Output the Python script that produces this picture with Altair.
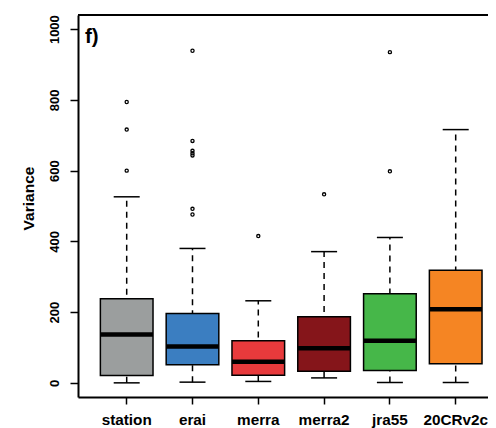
import altair as alt
import pandas as pd

cats = ["station", "erai", "merra", "merra2", "jra55", "20CRv2c"]
colors = ["#9B9E9E", "#3B7EC1", "#E83A3C", "#85151A", "#46B749", "#F58523"]
q1 = [20.6, 51, 21.5, 33, 35, 54]
med = [136.6, 103, 60, 98, 119, 208]
q3 = [237.6, 196, 119, 187, 252, 318.5]
wlo = [0, 2, 4, 14, 1, 1]
whi = [526, 380, 232, 371, 411, 716]
outliers = {
    "station": [794, 716, 600],
    "erai": [939, 684, 656, 649, 643, 492, 476],
    "merra": [415],
    "merra2": [533],
    "jra55": [935, 598],
    "20CRv2c": [],
}
yticks = [0, 200, 400, 600, 800, 1000]

df = pd.DataFrame({"cat": cats, "q1": q1, "med": med, "q3": q3, "wlo": wlo, "whi": whi})
odf = pd.DataFrame([{"cat": c, "v": v} for c in cats for v in outliers[c]])

FONT = "Liberation Sans"
W, H = 410, 382

xscale = alt.Scale(domain=cats, paddingInner=0.2, paddingOuter=0.2155, align=0.789)
yscale = alt.Scale(domain=[-40, 1040], nice=False, zero=False)

xenc = alt.X("cat:N", sort=cats, scale=xscale, title=None,
             axis=alt.Axis(labelAngle=0, labelFontSize=15.3, labelFontWeight="bold",
                           labelFont=FONT, labelColor="black", labelBaseline="alphabetic",
                           labelPadding=20.7, tickSize=7, tickWidth=1.5, tickColor="black",
                           domainWidth=2, domainColor="black", grid=False))
yaxis = alt.Axis(values=yticks, format="d", labelAngle=270, labelAlign="center",
                 labelBaseline="alphabetic",
                 labelFontSize=13, labelFontWeight="bold", labelFont=FONT, labelColor="black",
                 labelPadding=12, tickSize=8, tickWidth=1.5, tickColor="black",
                 domainWidth=2, domainColor="black", grid=False, labelFlush=False,
                 labelOverlap=False, title="Variance", titleFont=FONT, titleFontSize=15.5,
                 titleFontWeight="bold", titleColor="black", titleAngle=270,
                 titleAlign="center", titleBaseline="alphabetic", titleX=-45, titleY=183)

base = alt.Chart(df)

whisk = base.mark_rule(strokeDash=[6, 5], strokeWidth=1.5, color="black").encode(
    x=xenc, y=alt.Y("wlo:Q", scale=yscale, axis=yaxis), y2="whi:Q")
cap_lo = base.mark_tick(size=26, thickness=1.5, color="black", opacity=1).encode(
    x=xenc, y=alt.Y("wlo:Q", scale=yscale))
cap_hi = base.mark_tick(size=26, thickness=1.5, color="black", opacity=1).encode(
    x=xenc, y=alt.Y("whi:Q", scale=yscale))
box = base.mark_bar(stroke="black", strokeWidth=1.5, opacity=1).encode(
    x=xenc, y=alt.Y("q1:Q", scale=yscale), y2="q3:Q",
    color=alt.Color("cat:N", scale=alt.Scale(domain=cats, range=colors), legend=None))
median = base.mark_tick(size=52.6, thickness=4.5, color="black", opacity=1).encode(
    x=xenc, y=alt.Y("med:Q", scale=yscale))
pts = alt.Chart(odf).mark_point(shape="circle", filled=False, size=10, strokeWidth=1.3,
                                color="black", opacity=1).encode(
    x=xenc, y=alt.Y("v:Q", scale=yscale))
toprule = alt.Chart(pd.DataFrame({"a": [0]})).mark_rule(strokeWidth=2, color="black").encode(
    x=alt.value(0), x2=alt.value(W), y=alt.value(0))
label = alt.Chart(pd.DataFrame({"t": ["f)"]})).mark_text(
    align="left", baseline="alphabetic", font=FONT, fontSize=20.5, fontWeight="bold",
    color="black").encode(text="t:N", x=alt.value(7), y=alt.value(28))

chart = alt.layer(whisk, cap_lo, cap_hi, box, median, pts, toprule, label).properties(
    width=W, height=H,
    padding={"left": 70, "top": 7, "right": 0, "bottom": 31},
    autosize=alt.AutoSizeParams(type="none"),
    background="white",
).configure_view(stroke=None)

chart.save("out.html", embed_options={"renderer": "svg", "actions": False})
